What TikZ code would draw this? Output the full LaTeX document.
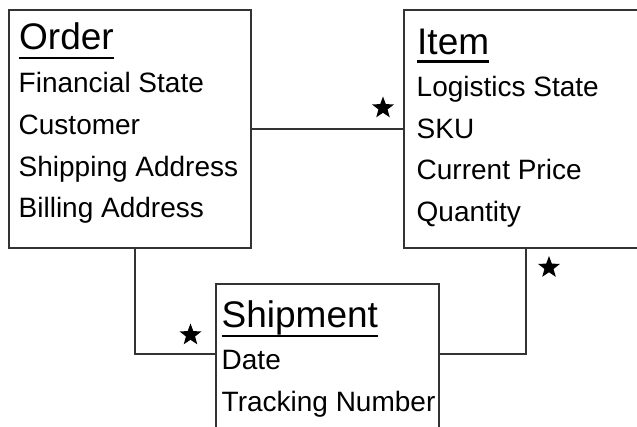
\documentclass[tikz,border=0pt]{standalone}
\usepackage{fontspec}
\setmainfont{Liberation Sans}
\usetikzlibrary{shapes.geometric}
\definecolor{linec}{HTML}{333333}
\tikzset{
  x=1pt, y=-1pt,
  entity/.style={draw=linec, line width=2pt, anchor=north west, inner sep=0pt},
  conn/.style={draw=linec, line width=2pt},
  ttl/.style={anchor=base west, inner sep=0pt, font=\fontsize{37}{40}\selectfont},
  attr/.style={anchor=base west, inner sep=0pt, font=\fontsize{28}{32}\selectfont},
  ul/.style={draw=black, line width=2.2pt},
  mult/.style={star, star points=5, star point ratio=2.4, fill=black, inner sep=0pt, minimum size=23pt}
}
\begin{document}
\begin{tikzpicture}
\clip (0,0) rectangle (637,427);
\fill[white] (0,0) rectangle (637,427);
% boxes
\node[entity, minimum width=242pt, minimum height=238pt] (order) at (8,9) {};
\node[entity, minimum width=244pt, minimum height=238pt] (item) at (402.5,9) {};
\node[entity, minimum width=223pt, minimum height=160pt] (ship) at (215,283) {};
% titles
\node[ttl] (tO) at (19,50) {Order};
\node[ttl] (tI) at (417,54.5) {Item};
\node[ttl] (tS) at (221.5,328) {Shipment};
\draw[ul] ([yshift=-8pt]tO.base west) -- ([yshift=-8pt]tO.base east);
\draw[ul] ([yshift=-7pt]tI.base west) -- ([yshift=-7pt]tI.base east);
\draw[ul] ([yshift=-8pt]tS.base west) -- ([yshift=-8pt]tS.base east);
% attributes
\node[attr] (o1) at (18.5,93) {Financial State};
\node[attr] (o2) at (18.5,135) {Customer};
\node[attr] (o3) at (18.5,176.5) {Shipping Address};
\node[attr] (o4) at (18.5,218) {Billing Address};
\node[attr] (i1) at (416.5,97) {Logistics State};
\node[attr] (i2) at (416.5,138.5) {SKU};
\node[attr] (i3) at (416.5,180) {Current Price};
\node[attr] (i4) at (416.5,221.5) {Quantity};
\node[attr] (s1) at (221.5,370) {Date};
\node[attr] (s2) at (221.5,411.5) {Tracking Number};
% connectors
\draw[conn] (order.east) -- (item.west);
\draw[conn] ([xshift=5pt]order.south) |- ([yshift=10pt]ship.west);
\draw[conn] (item.south) |- ([yshift=10pt]ship.east);
% multiplicities
\node[mult] (m1) at (383,108) {};
\node[mult] (m2) at (190.5,335) {};
\node[mult] (m3) at (549,267.5) {};
\end{tikzpicture}
\end{document}
